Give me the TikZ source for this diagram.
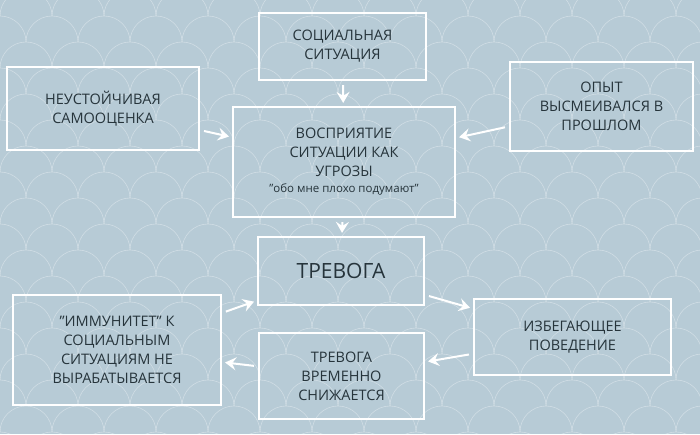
\documentclass[tikz,border=0pt]{standalone}
\usepackage{fontspec}
\setmainfont{Open Sans}
\usetikzlibrary{arrows.meta}
\definecolor{bg}{HTML}{B7CBD6}
\definecolor{tx}{HTML}{26343B}
\tikzset{
  box/.style={draw=white,line width=2.2pt,text=tx,align=center,font=\fontsize{14.5}{19}\selectfont,inner sep=0pt},
  arr/.style={draw=white,line width=2pt,-{Stealth[length=11pt,width=13pt,inset=4pt]},shorten <=4pt,shorten >=3pt}
}
\begin{document}
\begin{tikzpicture}[x=1pt,y=-1pt]
\fill[bg] (0,0) rectangle (700,434);
\useasboundingbox (0,0) rectangle (700,434);
\begin{scope}
\clip (0,0) rectangle (700,434);
\foreach \r in {0,...,18}{
  \pgfmathsetmacro{\yy}{\r*26-10}
  \pgfmathsetmacro{\xo}{mod(\r,2)*26}
  \foreach \c in {-1,...,14}{
    \draw[white,opacity=0.35,line width=0.6pt] (\xo+\c*52-26,\yy) arc[start angle=180,end angle=360,radius=26];
  }
}
\end{scope}
\node[box,minimum width=167,minimum height=67] (soc) at (342.5,46.5) {СОЦИАЛЬНАЯ\\СИТУАЦИЯ};
\node[box,minimum width=192,minimum height=83] (neu) at (103,108.5) {НЕУСТОЙЧИВАЯ\\САМООЦЕНКА};
\node[box,minimum width=183,minimum height=89] (op) at (601.5,106.5) {ОПЫТ\\ВЫСМЕИВАЛСЯ В\\ПРОШЛОМ};
\node[box,minimum width=222,minimum height=110] (vos) at (344,162) {ВОСПРИЯТИЕ\\СИТУАЦИИ КАК\\УГРОЗЫ\\[-3pt]{\fontsize{11.5}{14}\selectfont"обо мне плохо подумают"}};
\node[box,minimum width=166,minimum height=68,font=\fontsize{21}{24}\selectfont] (tr) at (341,271) {ТРЕВОГА};
\node[box,minimum width=208,minimum height=110] (imm) at (117,350) {"ИММУНИТЕТ" К\\СОЦИАЛЬНЫМ\\СИТУАЦИЯМ НЕ\\ВЫРАБАТЫВАЕТСЯ};
\node[box,minimum width=197,minimum height=76] (izb) at (572.5,337) {ИЗБЕГАЮЩЕЕ\\ПОВЕДЕНИЕ};
\node[box,minimum width=165,minimum height=86] (tv) at (341.5,376) {ТРЕВОГА\\ВРЕМЕННО\\СНИЖАЕТСЯ};
\draw[arr] (soc) -- (vos);
\draw[arr] (vos) -- (tr);
\draw[arr] (neu) -- (vos);
\draw[arr] (op) -- (vos);
\draw[arr] (tr) -- (izb);
\draw[arr] (izb) -- (tv);
\draw[arr] (tv) -- (imm);
\draw[arr] (imm) -- (tr);
\end{tikzpicture}
\end{document}
